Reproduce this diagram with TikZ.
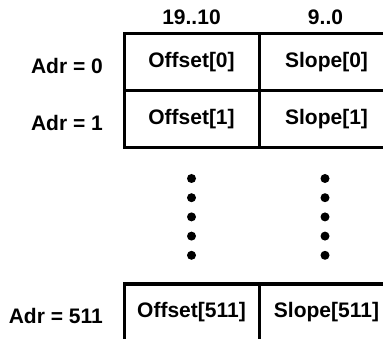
\documentclass[tikz,border=0pt]{standalone}
\usepackage{fontspec}
\setmainfont{Liberation Sans}
\usetikzlibrary{positioning}

\begin{document}
\begin{tikzpicture}[
	x=1pt, y=-1pt,
	% table cells
	cell/.style={draw, line width=3pt, minimum width=135pt, minimum height=57pt,
		inner sep=0pt, outer sep=0pt, font=\fontsize{21}{24}\selectfont\bfseries},
	% text styles
	bits label/.style={font=\fontsize{21}{24}\selectfont\bfseries, inner sep=0pt},
	adr label/.style={font=\fontsize{21}{24}\selectfont\bfseries, inner sep=0pt, anchor=east},
	dot/.style={fill=black}
	]
	
	\useasboundingbox (0,0) rectangle (383,339);
	\clip (0,0) rectangle (383,339);
	
	% first two entries
	\node[cell] (off0) at (191.5,62.5) {Offset[0]};
	\node[cell, right=0pt of off0] (slp0) {Slope[0]};
	\node[cell, below=0pt of off0] (off1) {Offset[1]};
	\node[cell, right=0pt of off1] (slp1) {Slope[1]};
	
	% bit ranges
	\node[bits label] (hi) at ([yshift=17pt]off0.north) {19..10};
	\node[bits label] (lo) at ([yshift=17pt, xshift=-1pt]slp0.north) {9..0};
	
	% addresses
	\node[adr label, left=21pt of off0, yshift=-3pt] (adr0) {Adr = 0};
	\node[adr label, left=21pt of off1, yshift=-3pt] (adr1) {Adr = 1};
	
	% dots
	\foreach \k in {0,...,4} {
		\pgfmathsetmacro\dy{30.5+19.2*\k}
		\fill[dot] ([yshift=-\dy pt]off1.south) circle (4.5pt);
		\fill[dot] ([yshift=-\dy pt, xshift=-1.5pt]slp1.south) circle (4.5pt);
	}
	
	% last entry
	\node[cell] (off511) at (191.5,312.5) {Offset[511]};
	\node[cell, right=0pt of off511] (slp511) {Slope[511]};
	\node[adr label, left=21pt of off511, yshift=-3pt] (adr511) {Adr = 511};
	
\end{tikzpicture}
\end{document}
